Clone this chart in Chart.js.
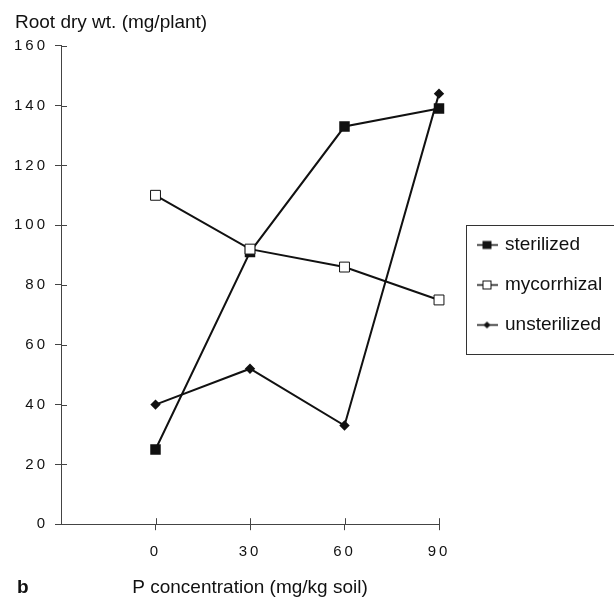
<!DOCTYPE html>
<html>
<head>
<meta charset="utf-8">
<script src="https://cdn.jsdelivr.net/npm/chart.js@4"></script>
<style>
  body { margin:0; background:#fff; }
  #wrap { width:614px; height:600px; }
</style>
</head>
<body>
<div id="wrap"><canvas id="chart" width="614" height="600"></canvas></div>
<script>
const pConc = [0, 30, 60, 90];
const sterilized = [25, 91, 133, 139];
const mycorrhizal = [110, 92, 86, 75];
const unsterilized = [40, 52, 33, 144];
const seriesNames = ['sterilized', 'mycorrhizal', 'unsterilized'];
const yTitle = 'Root dry wt. (mg/plant)';
const xTitle = 'P concentration (mg/kg soil)';
const panelLabel = 'b';

const ink = '#111';
const axisGrey = '#444';
const font = 'Liberation Sans, Arial, sans-serif';

const pts = vals => pConc.map((x, i) => ({ x, y: vals[i] }));

// little "-marker-" icons for the legend
function legendIcon(kind){
  const c = document.createElement('canvas');
  c.width = 21; c.height = 11;
  const g = c.getContext('2d');
  g.strokeStyle = ink; g.lineWidth = 1.5;
  g.beginPath(); g.moveTo(0, 5.5); g.lineTo(21, 5.5); g.stroke();
  if (kind === 'filled'){
    g.fillStyle = ink; g.fillRect(6, 1.5, 9, 8);
  } else if (kind === 'open'){
    g.fillStyle = '#fff'; g.fillRect(6.5, 1.5, 8, 8);
    g.lineWidth = 1; g.strokeRect(6.5, 1.5, 8, 8);
  } else {
    g.fillStyle = ink; g.beginPath();
    g.moveTo(10.5, 2); g.lineTo(14, 5.5); g.lineTo(10.5, 9); g.lineTo(7, 5.5); g.closePath(); g.fill();
  }
  return c;
}
const icons = [legendIcon('filled'), legendIcon('open'), legendIcon('diamond')];

const extras = {
  id: 'extras',
  afterLayout(chart){
    // nudge legend to the right, where the framed key sits
    chart.legend.left += 18.5;
    chart.legend.right += 18.5;
  },
  afterDatasetsDraw(chart){ chart.ctx.letterSpacing = '3px'; },
  afterDraw(chart){
    const ctx = chart.ctx;
    const { x, y } = chart.scales;
    ctx.save();
    ctx.letterSpacing = '0px';
    // inner half of the cross-shaped tick marks
    ctx.strokeStyle = axisGrey; ctx.lineWidth = 1;
    ctx.beginPath();
    y.ticks.forEach(t => {
      const py = Math.round(y.getPixelForValue(t.value)) + 0.5;
      ctx.moveTo(x.left, py); ctx.lineTo(x.left + 6, py);
    });
    x.ticks.forEach(t => {
      const px = Math.round(x.getPixelForValue(t.value)) + 0.5;
      ctx.moveTo(px, y.bottom); ctx.lineTo(px, y.bottom - 6);
    });
    ctx.stroke();
    // frame round the key
    ctx.strokeStyle = '#333';
    ctx.strokeRect(466.5, 225.5, 152, 129);
    ctx.fillStyle = ink;
    ctx.font = 'bold 19px ' + font;
    ctx.textBaseline = 'middle';
    ctx.fillText(panelLabel, 17, 588);
    ctx.restore();
    ctx.letterSpacing = '0px';
  }
};

new Chart(document.getElementById('chart'), {
  type: 'line',
  data: {
    datasets: [
      { label: seriesNames[0], data: pts(sterilized), borderColor: ink, borderWidth: 2, clip: false, order: 1,
        pointStyle: 'rect', pointRadius: 6, pointBackgroundColor: ink, pointBorderColor: ink },
      { label: seriesNames[1], data: pts(mycorrhizal), borderColor: ink, borderWidth: 2, clip: false, order: 0,
        pointStyle: 'rect', pointRadius: 7, pointBackgroundColor: '#fff', pointBorderColor: ink, pointBorderWidth: 1 },
      { label: seriesNames[2], data: pts(unsterilized), borderColor: ink, borderWidth: 2, clip: false, order: 2,
        pointStyle: 'rectRot', pointRadius: 3.8, pointBackgroundColor: ink, pointBorderColor: ink }
    ]
  },
  options: {
    responsive: true,
    maintainAspectRatio: false,
    animation: false,
    events: [],
    layout: { padding: { left: 15, right: 0, top: 0, bottom: 0 } },
    plugins: {
      tooltip: { enabled: false },
      title: {
        display: true, text: yTitle, position: 'top', align: 'start',
        color: ink, font: { family: font, size: 19, weight: 'normal' },
        padding: { top: 11, bottom: 12 }
      },
      legend: {
        position: 'right', align: 'center', fullSize: false,
        labels: {
          color: ink, font: { family: font, size: 19 },
          usePointStyle: true, pointStyleWidth: 17, padding: 21,
          sort: (a, b) => a.datasetIndex - b.datasetIndex,
          generateLabels(chart){
            const items = Chart.defaults.plugins.legend.labels.generateLabels(chart);
            items.forEach(it => { it.pointStyle = icons[it.datasetIndex]; });
            return items;
          }
        }
      }
    },
    scales: {
      x: {
        type: 'linear', min: -30, max: 90,
        afterBuildTicks(scale){ scale.ticks = pConc.map(v => ({ value: v })); },
        afterFit(scale){ scale.paddingRight = 175; },
        grid: { drawOnChartArea: false, tickLength: 6, color: axisGrey },
        border: { color: axisGrey, width: 1 },
        ticks: { color: ink, font: { family: font, size: 15 }, padding: 13, z: 1, maxRotation: 0 },
        title: { display: true, text: xTitle, color: ink, font: { family: font, size: 19 },
                 padding: { top: 2, bottom: 1 } }
      },
      y: {
        min: 0, max: 160,
        afterFit(scale){ scale.width = 46; },
        grid: { drawOnChartArea: false, tickLength: 6, color: axisGrey },
        border: { color: axisGrey, width: 1 },
        ticks: { stepSize: 20, color: ink, font: { family: font, size: 15 }, padding: 7, z: 1 }
      }
    }
  },
  plugins: [extras]
});
</script>
</body>
</html>
